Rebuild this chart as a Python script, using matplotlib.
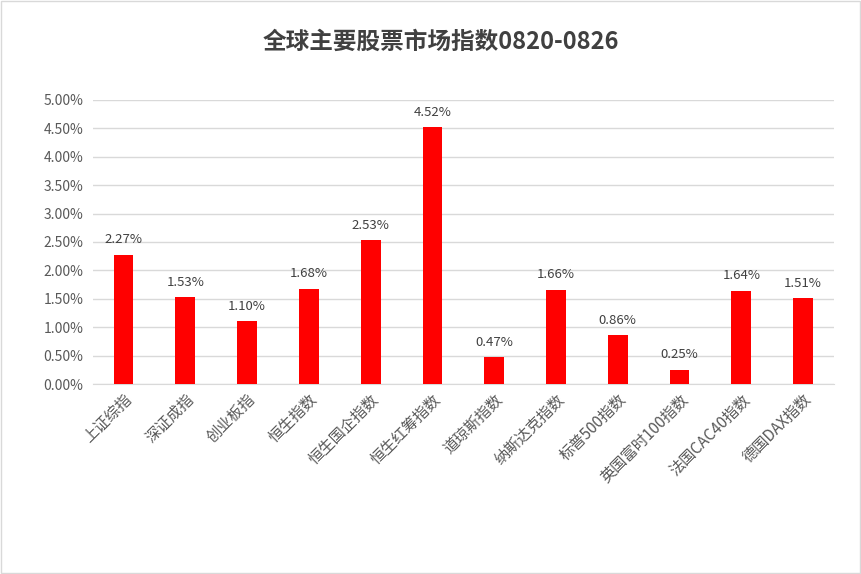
import matplotlib
matplotlib.use("Agg")
import matplotlib.pyplot as plt
from matplotlib.ticker import FuncFormatter, MultipleLocator
from matplotlib.patches import Rectangle

plt.rcParams['font.family'] = ['Noto Sans CJK SC', 'DejaVu Sans']

categories = ["上证综指", "深证成指", "创业板指", "恒生指数", "恒生国企指数", "恒生红筹指数",
              "道琼斯指数", "纳斯达克指数", "标普500指数", "英国富时100指数", "法国CAC40指数", "德国DAX指数"]
values = [2.27, 1.53, 1.10, 1.68, 2.53, 4.52, 0.47, 1.66, 0.86, 0.25, 1.64, 1.51]
title = "全球主要股票市场指数0820-0826"

fig = plt.figure(figsize=(8.61, 5.74), dpi=100)
fig.patches.append(Rectangle((0.001, 0.001), 0.998, 0.998, transform=fig.transFigure,
                             fill=False, edgecolor='#d9d9d9', linewidth=1))
ax = fig.add_axes([0.1075, 0.331, 0.8612, 0.495])

x = list(range(len(categories)))
ax.bar(x, values, width=0.32, color='#ff0000', zorder=3)
for xi, v in zip(x, values):
    ax.text(xi, v + 0.15, f"{v:.2f}%", ha='center', va='bottom', fontsize=9.5, color='#404040')

ax.set_xlim(-0.5, len(categories) - 0.5)
ax.set_ylim(0, 5.0)
ax.yaxis.set_major_locator(MultipleLocator(0.5))
ax.yaxis.set_major_formatter(FuncFormatter(lambda v, p: f"{v:.2f}%"))
ax.grid(axis='y', color='#d9d9d9', linewidth=1, zorder=0)
for s in ['top', 'right', 'left']:
    ax.spines[s].set_visible(False)
ax.spines['bottom'].set_color('#d9d9d9')
ax.tick_params(axis='both', length=0, colors='#595959', labelsize=10)
ax.tick_params(axis='y', pad=6.5)
ax.tick_params(axis='x', pad=5)
ax.set_xticks(x)
ax.set_xticklabels(categories, rotation=45, ha='right', rotation_mode='anchor', fontsize=11, color='#595959')

fig.text(0.512, 0.927, title, ha='center', va='center', fontsize=17, fontweight='bold', color='#404040')

fig.savefig('out.png', dpi=100)
